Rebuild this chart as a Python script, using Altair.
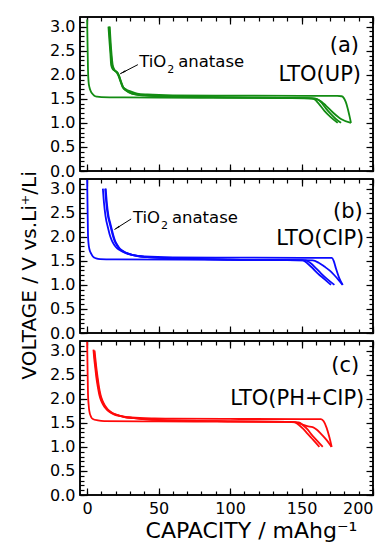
import altair as alt
import pandas as pd

# ---------------- data ----------------
# panel (a) LTO(UP)
A_D1_CAP = [0, 0.3, 0.6, 1.0, 1.6, 2.5, 3.5, 5.0, 7.0, 10, 20, 50, 100, 140, 155, 158, 161, 164, 167, 171.8, 177.6, 184.6]
A_D1_V = [3.15, 2.6, 2.1, 1.85, 1.74, 1.66, 1.61, 1.565, 1.545, 1.535, 1.53, 1.525, 1.52, 1.515, 1.51, 1.505, 1.49, 1.44, 1.36, 1.22, 1.08, 1.0]
A_C1_CAP = [184.6, 183.5, 182.3, 181.0, 179.5, 178.0, 175, 150, 100, 60, 42, 35, 30.8, 27, 25, 23.6, 22.6, 21.5, 20.3, 18.0, 16.8, 16.3, 15.6, 14.9]
A_C1_V = [1.0, 1.15, 1.3, 1.43, 1.52, 1.553, 1.56, 1.563, 1.567, 1.572, 1.59, 1.61, 1.65, 1.7, 1.75, 1.85, 1.95, 2.03, 2.07, 2.11, 2.2, 2.42, 2.7, 3.0]
A_D2_CAP = [15.4, 16.0, 16.7, 17.5, 18.8, 20.8, 22.0, 23.2, 24.7, 27.2, 31.2, 40, 55, 100, 150, 157, 159, 162, 166, 170, 175.3]
A_D2_V = [3.0, 2.7, 2.42, 2.2, 2.1, 2.04, 1.97, 1.87, 1.75, 1.67, 1.61, 1.57, 1.55, 1.53, 1.515, 1.51, 1.49, 1.40, 1.25, 1.13, 1.0]
A_D3_CAP = [15.8, 16.4, 17.1, 17.9, 19.2, 21.2, 22.4, 23.6, 25.1, 27.6, 31.6, 40, 55, 100, 150, 159, 161, 163.6, 167, 170.6, 174, 177.6]
A_D3_V = [3.0, 2.7, 2.42, 2.2, 2.1, 2.04, 1.97, 1.87, 1.75, 1.67, 1.61, 1.57, 1.55, 1.53, 1.515, 1.51, 1.49, 1.43, 1.3, 1.18, 1.08, 1.0]

# panel (b) LTO(CIP)
B_D1_CAP = [0, 0.3, 0.6, 1.0, 1.5, 2.8, 4.0, 6.3, 9.0, 20, 100, 150, 157.8, 162, 166, 170, 173, 176, 178.8]
B_D1_V = [3.2, 2.6, 2.03, 1.85, 1.75, 1.65, 1.59, 1.55, 1.535, 1.53, 1.52, 1.515, 1.51, 1.46, 1.38, 1.29, 1.2, 1.1, 1.0]
B_C1_CAP = [178.8, 176.4, 174.1, 172.5, 171.1, 150, 100, 60, 40, 32, 27, 23.5, 21, 19, 17.3, 15.9, 14.8, 12.8, 11.8, 11.0]
B_C1_V = [1.0, 1.14, 1.34, 1.5, 1.56, 1.563, 1.567, 1.572, 1.59, 1.62, 1.66, 1.71, 1.76, 1.83, 1.92, 2.03, 2.16, 2.44, 2.7, 3.0]
B_D2_CAP = [12.6, 13.4, 14.5, 15.6, 16.8, 17.9, 19.1, 20.7, 22.6, 25, 28.5, 35, 42, 60, 100, 150.8, 154, 158, 161.3, 166, 170.6]
B_D2_V = [3.0, 2.7, 2.44, 2.3, 2.16, 2.03, 1.92, 1.83, 1.75, 1.7, 1.65, 1.6, 1.575, 1.55, 1.525, 1.51, 1.45, 1.34, 1.24, 1.12, 1.0]
B_D3_CAP = [13.0, 13.8, 14.9, 16.0, 17.2, 18.3, 19.5, 21.1, 23, 25.4, 28.9, 35.4, 42.4, 60, 100, 153, 156, 160, 163.6, 168, 173]
B_D3_V = [3.0, 2.7, 2.44, 2.3, 2.16, 2.03, 1.92, 1.83, 1.75, 1.7, 1.65, 1.6, 1.575, 1.55, 1.525, 1.51, 1.46, 1.35, 1.24, 1.12, 1.0]

# panel (c) LTO(PH+CIP)
C_D1_CAP = [0, 0.3, 0.6, 1.0, 1.5, 2.8, 4.0, 7.5, 12, 50, 100, 140, 146, 150, 154, 157.8, 160.5, 163.6, 167, 171]
C_D1_V = [3.2, 2.6, 2.1, 1.89, 1.75, 1.62, 1.58, 1.55, 1.535, 1.53, 1.525, 1.52, 1.51, 1.47, 1.43, 1.41, 1.36, 1.27, 1.16, 1.0]
C_C1_CAP = [171.1, 169.5, 167.5, 165.5, 163.6, 150, 100, 60, 47, 30.8, 24, 19.1, 15.5, 13.3, 11.3, 9.8, 8.5, 7.5, 6.4, 5.6, 4.9, 4.4]
C_C1_V = [1.0, 1.2, 1.4, 1.53, 1.575, 1.578, 1.58, 1.585, 1.59, 1.61, 1.64, 1.67, 1.73, 1.79, 1.87, 1.96, 2.08, 2.24, 2.45, 2.66, 2.85, 3.02]
C_D2_CAP = [4.8, 5.3, 6.0, 6.9, 7.9, 9.0, 10.3, 12, 14, 17, 20, 26, 32, 48, 100, 140, 145, 148, 151, 154.3, 158, 162.5]
C_D2_V = [3.0, 2.85, 2.66, 2.45, 2.24, 2.08, 1.96, 1.86, 1.78, 1.71, 1.67, 1.62, 1.6, 1.56, 1.53, 1.52, 1.515, 1.46, 1.38, 1.27, 1.15, 1.0]
C_D3_CAP = [5.2, 5.7, 6.4, 7.3, 8.3, 9.4, 10.7, 12.4, 14.4, 17.4, 20.4, 26.4, 32.4, 48, 100, 140, 148, 151, 154, 156.6, 160.5, 164.8]
C_D3_V = [3.0, 2.85, 2.66, 2.45, 2.24, 2.08, 1.96, 1.86, 1.78, 1.71, 1.67, 1.62, 1.6, 1.56, 1.53, 1.52, 1.51, 1.45, 1.37, 1.27, 1.14, 1.0]

X_MAJOR = [0, 50, 100, 150, 200]
X_MINOR = [0, 10, 20, 30, 40, 50, 60, 70, 80, 90, 100, 110, 120, 130, 140, 150, 160, 170, 180, 190, 200]
Y_MAJOR = [0.0, 0.5, 1.0, 1.5, 2.0, 2.5, 3.0]
Y_MINOR = [0.0, 0.1, 0.2, 0.3, 0.4, 0.5, 0.6, 0.7, 0.8, 0.9, 1.0, 1.1, 1.2, 1.3, 1.4, 1.5, 1.6,
           1.7, 1.8, 1.9, 2.0, 2.1, 2.2, 2.3, 2.4, 2.5, 2.6, 2.7, 2.8, 2.9, 3.0, 3.1]

FONT = "DejaVu Sans"
W, H = 293, 154
XS = alt.Scale(domain=[-5, 200], nice=False, zero=False)
YS = alt.Scale(domain=[0, 3.2], nice=False, zero=False)
ONE = alt.Data(values=[{"k": 0}])


def frame(curves):
    rows = []
    for name, caps, vs in curves:
        for i, (c, v) in enumerate(zip(caps, vs)):
            rows.append({"curve": name, "i": i, "cap": c, "v": v})
    return pd.DataFrame(rows)


def xd(v):
    return alt.XDatum(v, scale=XS, axis=None)


def yd(v):
    return alt.YDatum(v, scale=YS, axis=None)


def txt(s, x, y, size, align="left", dx=0, dy=0):
    return alt.Chart(ONE).mark_text(text=s, font=FONT, fontSize=size, align=align,
                                    baseline="alphabetic", dx=dx, dy=dy, color="black").encode(
        x=xd(x), y=yd(y))


def arrow(x1, y1, x2, y2, ang, ox, oy):
    rule = alt.Chart(ONE).mark_rule(color="black", strokeWidth=1).encode(
        x=xd(x1), y=yd(y1), x2=alt.datum(x2), y2=alt.datum(y2))
    head = alt.Chart(ONE).mark_point(shape="wedge", filled=True, color="black", size=45,
                                     angle=ang, opacity=1, xOffset=ox, yOffset=oy).encode(
        x=xd(x2), y=yd(y2))
    return [rule, head]


def axis_layer(xo, yo, xvals, yvals, size):
    return alt.Chart(alt.Data(values=[{"cap": 0, "v": 0}])).mark_point(opacity=0).encode(
        x=alt.X("cap:Q", scale=XS, axis=alt.Axis(orient=xo, values=xvals, tickSize=size, offset=-size,
                                                  labels=False, title=None, domain=False, grid=False,
                                                  ticks=True, tickColor="black", tickWidth=1.2)),
        y=alt.Y("v:Q", scale=YS, axis=alt.Axis(orient=yo, values=yvals, tickSize=size, offset=-size,
                                                labels=False, title=None, domain=False, grid=False,
                                                ticks=True, tickColor="black", tickWidth=1.2)))


def border():
    return alt.Chart(ONE).mark_rect(fill=None, filled=False, stroke="black", strokeWidth=1.5).encode(
        x=alt.value(0), x2=alt.value(W), y=alt.value(0), y2=alt.value(H))


def panel(df, color, tag, tagpos, sample, samplepos, bottom, ytitle, extra):
    xaxis = dict(orient="bottom", values=X_MAJOR, tickSize=7, offset=-7, labels=bottom,
                 labelFlush=True, labelPadding=5, domain=False, grid=False, title=None,
                 ticks=True, tickColor="black", tickWidth=1.2)
    if bottom:
        xaxis.update(title="CAPACITY / mAhg⁻¹", titleFontSize=22, titlePadding=4, titleX=171)
    yaxis = dict(orient="left", values=Y_MAJOR, format=".1f", tickSize=7, offset=-7,
                 labelPadding=5, domain=False, grid=False, title=None,
                 ticks=True, tickColor="black", tickWidth=1.2)
    if ytitle:
        yaxis.update(title="VOLTAGE / V vs.Li⁺/Li", titleFontSize=20, titlePadding=10, titleY=96)
    lines = alt.Chart(df).mark_line(color=color, strokeWidth=1.8, interpolate="monotone", clip=True).encode(
        x=alt.X("cap:Q", scale=XS, axis=alt.Axis(**xaxis)),
        y=alt.Y("v:Q", scale=YS, axis=alt.Axis(**yaxis)),
        detail="curve:N", order="i:Q")
    layers = [lines,
              axis_layer("bottom", "left", X_MINOR, Y_MINOR, 4),
              axis_layer("top", "right", X_MAJOR, Y_MAJOR, 7),
              axis_layer("top", "right", X_MINOR, Y_MINOR, 4),
              border(),
              txt(tag, tagpos[0], tagpos[1], 21, align="right"),
              txt(sample, samplepos[0], samplepos[1], 21, align="right")] + extra
    return alt.layer(*layers).resolve_axis(x="independent", y="independent").properties(width=W, height=H)


def tio2(x, y):
    return [txt("TiO", x, y, 16.5), txt("2", x, y, 11, dx=28, dy=6), txt("anatase", x, y, 16.5, dx=39)]


df_a = frame([("d1", A_D1_CAP, A_D1_V), ("c1", A_C1_CAP, A_C1_V), ("d2", A_D2_CAP, A_D2_V), ("d3", A_D3_CAP, A_D3_V)])
df_b = frame([("d1", B_D1_CAP, B_D1_V), ("c1", B_C1_CAP, B_C1_V), ("d2", B_D2_CAP, B_D2_V), ("d3", B_D3_CAP, B_D3_V)])
df_c = frame([("d1", C_D1_CAP, C_D1_V), ("c1", C_C1_CAP, C_C1_V), ("d2", C_D2_CAP, C_D2_V), ("d3", C_D3_CAP, C_D3_V)])

pa = panel(df_a, "#138c13", "(a)", (190.2, 2.47), "LTO(UP)", (191.6, 1.88), False, False,
           tio2(36.4, 2.16) + arrow(35.5, 2.21, 23.1, 2.02, 243, 3.5, -1.8))
pb = panel(df_b, "#0a0aff", "(b)", (192.8, 2.40), "LTO(CIP)", (193.9, 1.82), False, True,
           tio2(32.0, 2.285) + arrow(30.8, 2.37, 19.1, 2.15, 237, 3.3, -2.1))
pc = panel(df_c, "#ff0a0a", "(c)", (190.4, 2.55), "LTO(PH+CIP)", (193.9, 1.88), True, False, [])

chart = alt.vconcat(pa, pb, pc, spacing=8, bounds="flush").properties(
    padding={"left": 10, "top": 7, "right": 3, "bottom": 0}
).configure_view(stroke="black", strokeWidth=1.5).configure_axis(
    labelFont=FONT, labelFontSize=16, labelColor="black", titleFont=FONT, titleColor="black",
    titleFontWeight="normal", tickColor="black", tickWidth=1.2
)

chart.save("out.html", embed_options={"renderer": "svg", "actions": False})
